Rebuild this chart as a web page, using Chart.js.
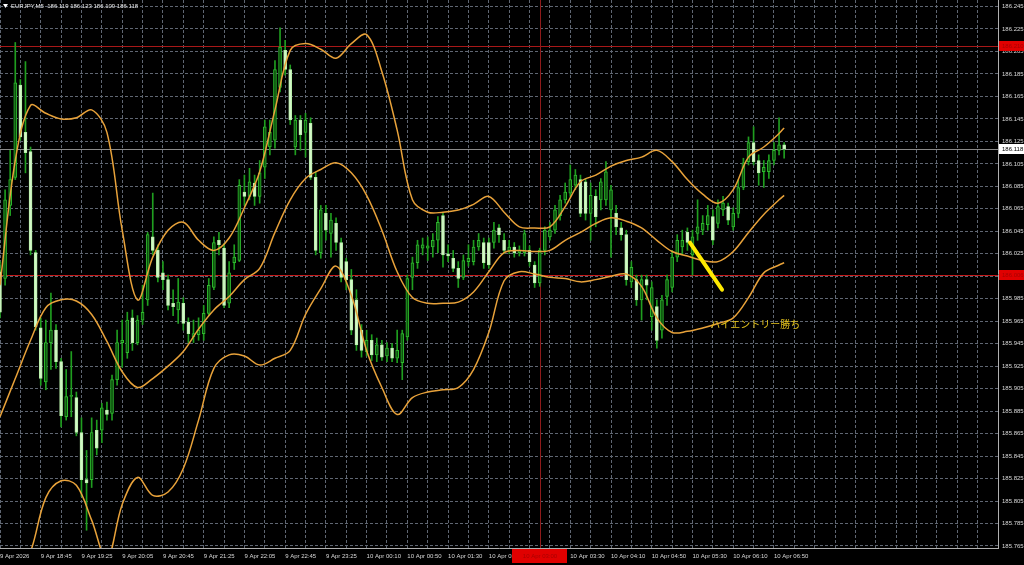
<!DOCTYPE html>
<html>
<head>
<meta charset="utf-8">
<title>EURJPY,M5</title>
<script src="https://cdn.jsdelivr.net/npm/chart.js@4.4.1/dist/chart.umd.min.js"></script>
<style>
  html, body { margin: 0; padding: 0; background: #000; }
  #wrap { width: 1024px; height: 565px; }
</style>
</head>
<body>
<div id="wrap"><canvas id="chart" width="1024" height="565"></canvas></div>
<script>
// EURJPY M5 candles, 9 Apr 18:05 .. 10 Apr 07:00 (bar index 0..154)
const opens = [
  186.009, 186.003, 186.068, 186.093, 186.175, 186.133, 186.116, 186.026, 185.959, 185.911,
  185.946, 185.957, 185.929, 185.880, 185.898, 185.897, 185.866, 185.824, 185.824, 185.868,
  185.868, 185.886, 185.883, 185.913, 185.946, 185.937, 185.968, 185.946, 185.966, 185.984,
  186.040, 186.028, 186.008, 186.002, 185.981, 185.975, 185.981, 185.964, 185.951, 185.953,
  185.954, 185.972, 185.995, 186.037, 186.030, 185.981, 186.017, 186.019, 186.080, 186.076,
  186.088, 186.076, 186.102, 186.120, 186.126, 186.173, 186.206, 186.189, 186.120, 186.144,
  186.133, 186.141, 186.093, 186.026, 186.061, 186.043, 186.052, 186.035, 186.018, 186.002,
  185.984, 185.957, 185.938, 185.948, 185.935, 185.944, 185.934, 185.941, 185.932, 185.928,
  185.951, 186.004, 186.017, 186.030, 186.030, 186.031, 186.037, 186.059, 186.025, 186.021,
  186.012, 186.004, 186.018, 186.018, 186.031, 186.035, 186.035, 186.035, 186.048, 186.037,
  186.028, 186.031, 186.026, 186.026, 186.028, 186.015, 185.999, 186.028, 186.040, 186.046,
  186.059, 186.073, 186.079, 186.086, 186.091, 186.089, 186.061, 186.076, 186.073, 186.073,
  186.064, 186.061, 186.048, 186.042, 186.000, 186.002, 185.984, 186.002, 185.969, 185.978,
  185.957, 185.987, 185.995, 186.022, 186.031, 186.044, 186.024, 186.043, 186.046, 186.051,
  186.058, 186.052, 186.064, 186.067, 186.049, 186.061, 186.084, 186.107, 186.124, 186.108,
  186.098, 186.098, 186.108, 186.117, 186.122
];
const highs = [
  186.018, 186.082, 186.117, 186.213, 186.180, 186.196, 186.120, 186.028, 185.968, 185.966,
  185.990, 185.962, 185.932, 185.922, 185.938, 185.902, 185.879, 185.850, 185.879, 185.877,
  185.892, 185.893, 185.917, 185.957, 185.966, 185.973, 185.975, 185.970, 185.997, 186.044,
  186.079, 186.033, 186.018, 186.006, 185.993, 186.003, 185.986, 185.968, 185.966, 185.968,
  185.979, 186.003, 186.040, 186.044, 186.034, 186.018, 186.033, 186.091, 186.095, 186.101,
  186.095, 186.108, 186.144, 186.144, 186.197, 186.226, 186.215, 186.193, 186.148, 186.148,
  186.150, 186.146, 186.098, 186.068, 186.068, 186.061, 186.057, 186.039, 186.021, 186.011,
  185.993, 185.962, 185.957, 185.953, 185.950, 185.948, 185.946, 185.945, 185.957, 185.957,
  186.006, 186.022, 186.037, 186.039, 186.040, 186.043, 186.058, 186.061, 186.033, 186.028,
  186.018, 186.024, 186.033, 186.037, 186.043, 186.039, 186.039, 186.053, 186.051, 186.043,
  186.037, 186.035, 186.032, 186.046, 186.032, 186.018, 186.030, 186.049, 186.053, 186.068,
  186.077, 186.088, 186.104, 186.100, 186.095, 186.092, 186.088, 186.082, 186.092, 186.107,
  186.086, 186.068, 186.053, 186.046, 186.018, 186.006, 186.006, 186.006, 186.000, 185.984,
  185.988, 186.006, 186.028, 186.042, 186.046, 186.048, 186.046, 186.073, 186.059, 186.068,
  186.064, 186.073, 186.076, 186.070, 186.066, 186.091, 186.110, 186.129, 186.138, 186.113,
  186.108, 186.113, 186.124, 186.146, 186.124
];
const lows = [
  185.968, 185.997, 186.059, 186.091, 186.126, 186.097, 186.024, 185.957, 185.908, 185.904,
  185.922, 185.923, 185.871, 185.877, 185.880, 185.863, 185.809, 185.779, 185.817, 185.846,
  185.857, 185.877, 185.877, 185.908, 185.924, 185.932, 185.939, 185.944, 185.962, 185.979,
  186.024, 186.000, 185.993, 185.975, 185.970, 185.963, 185.957, 185.946, 185.946, 185.948,
  185.948, 185.970, 185.993, 186.024, 185.977, 185.977, 186.011, 186.018, 186.068, 186.073,
  186.068, 186.070, 186.092, 186.113, 186.119, 186.169, 186.184, 186.140, 186.113, 186.117,
  186.111, 186.091, 186.024, 186.021, 186.037, 186.022, 186.028, 186.000, 185.993, 185.953,
  185.939, 185.933, 185.934, 185.930, 185.929, 185.930, 185.929, 185.929, 185.928, 185.913,
  185.948, 185.993, 186.012, 186.024, 186.019, 186.022, 186.026, 186.013, 186.018, 186.009,
  185.995, 186.002, 186.014, 186.015, 186.028, 186.012, 186.012, 186.030, 186.035, 186.025,
  186.025, 186.022, 186.023, 186.023, 186.014, 185.995, 185.996, 186.024, 186.037, 186.043,
  186.055, 186.070, 186.076, 186.082, 186.058, 186.055, 186.037, 186.049, 186.064, 186.068,
  186.022, 186.042, 186.037, 185.997, 185.995, 185.979, 185.966, 185.984, 185.957, 185.941,
  185.950, 185.979, 185.991, 186.018, 186.024, 186.028, 186.006, 186.037, 186.042, 186.046,
  186.033, 186.048, 186.059, 186.051, 186.046, 186.057, 186.082, 186.104, 186.104, 186.086,
  186.084, 186.092, 186.104, 186.113, 186.110
];
const closes = [
  185.973, 186.073, 186.091, 186.177, 186.129, 186.115, 186.028, 185.960, 185.914, 185.946,
  185.957, 185.929, 185.881, 185.898, 185.899, 185.866, 185.824, 185.821, 185.866, 185.852,
  185.888, 185.882, 185.913, 185.946, 185.948, 185.966, 185.946, 185.966, 185.973, 186.042,
  186.028, 186.004, 186.002, 185.979, 185.978, 185.982, 185.963, 185.954, 185.954, 185.957,
  185.972, 185.997, 186.035, 186.033, 185.979, 186.008, 186.022, 186.086, 186.076, 186.089,
  186.076, 186.097, 186.138, 186.133, 186.189, 186.209, 186.189, 186.144, 186.144, 186.131,
  186.144, 186.093, 186.028, 186.064, 186.046, 186.055, 186.035, 186.004, 186.002, 185.957,
  185.944, 185.939, 185.948, 185.935, 185.944, 185.933, 185.941, 185.932, 185.939, 185.954,
  186.003, 186.017, 186.033, 186.033, 186.032, 186.037, 186.053, 186.024, 186.023, 186.012,
  186.003, 186.019, 186.021, 186.031, 186.037, 186.017, 186.015, 186.046, 186.042, 186.028,
  186.031, 186.026, 186.028, 186.043, 186.018, 185.999, 186.028, 186.046, 186.046, 186.064,
  186.073, 186.080, 186.091, 186.095, 186.061, 186.061, 186.077, 186.058, 186.089, 186.098,
  186.082, 186.049, 186.042, 186.002, 186.013, 185.984, 186.002, 185.997, 185.995, 185.948,
  185.984, 186.002, 186.022, 186.037, 186.037, 186.035, 186.040, 186.049, 186.052, 186.059,
  186.037, 186.067, 186.070, 186.055, 186.061, 186.084, 186.106, 186.124, 186.107, 186.097,
  186.102, 186.108, 186.117, 186.122, 186.118
];

// bottom axis labels, one every 8 bars
const labelStep = 8;
const timeLabels = [
  "9 Apr 2026", "9 Apr 18:45", "9 Apr 19:25", "9 Apr 20:05", "9 Apr 20:45",
  "9 Apr 21:25", "9 Apr 22:05", "9 Apr 22:45", "9 Apr 23:25", "10 Apr 00:10",
  "10 Apr 00:50", "10 Apr 01:30", "10 Apr 02:10", "10 Apr 02:50", "10 Apr 03:30",
  "10 Apr 04:10", "10 Apr 04:50", "10 Apr 05:30", "10 Apr 06:10", "10 Apr 06:50"
];

// right axis labels
const priceTicks = [
  185.765, 185.785, 185.805, 185.825, 185.845, 185.865, 185.885, 185.905, 185.925,
  185.945, 185.965, 185.985, 186.005, 186.025, 186.045, 186.065, 186.085, 186.105,
  186.125, 186.145, 186.165, 186.185, 186.205, 186.225, 186.245
];

// Bollinger bands, read every 3 bars
const bandIdx = [
  0, 3, 6, 9, 12, 15, 18, 21, 24, 27, 30, 33, 36, 39, 42, 45, 48, 51, 54, 57,
  60, 63, 66, 69, 72, 75, 78, 81, 84, 87, 90, 93, 96, 99, 102, 105, 108, 111, 114, 117,
  120, 123, 126, 129, 132, 135, 138, 141, 144, 147, 150, 153, 154
];
const bandUpper = [
  185.997, 186.108, 186.157, 186.150, 186.145, 186.146, 186.153, 186.133, 186.046, 185.984,
  186.022, 186.046, 186.053, 186.037, 186.028, 186.039, 186.066, 186.098, 186.153, 186.206,
  186.212, 186.207, 186.199, 186.212, 186.220, 186.187, 186.135, 186.073, 186.062, 186.062,
  186.064, 186.069, 186.076, 186.062, 186.049, 186.048, 186.049, 186.067, 186.089, 186.095,
  186.103, 186.108, 186.111, 186.117, 186.107, 186.091, 186.078, 186.070, 186.082, 186.111,
  186.120, 186.132, 186.137
];
const bandMiddle = [
  185.880, 185.914, 185.948, 185.977, 185.984, 185.983, 185.971, 185.947, 185.920, 185.906,
  185.914, 185.925, 185.938, 185.958, 185.975, 185.987, 186.002, 186.012, 186.044, 186.073,
  186.092, 186.100, 186.106, 186.097, 186.077, 186.046, 186.009, 185.986, 185.981, 185.981,
  185.982, 185.991, 186.009, 186.026, 186.028, 186.027, 186.028, 186.037, 186.044, 186.052,
  186.057, 186.054, 186.048, 186.037, 186.027, 186.023, 186.019, 186.018, 186.027, 186.044,
  186.060, 186.073, 186.077
];
const bandLower = [
  185.750, 185.735, 185.760, 185.808, 185.823, 185.819, 185.788, 185.753, 185.802, 185.826,
  185.810, 185.813, 185.834, 185.877, 185.923, 185.935, 185.934, 185.926, 185.932, 185.939,
  185.971, 185.994, 186.014, 185.988, 185.939, 185.906, 185.882, 185.897, 185.902, 185.904,
  185.906, 185.922, 185.955, 186.001, 186.009, 186.007, 186.004, 186.003, 186.000, 186.002,
  186.005, 186.007, 185.996, 185.968, 185.955, 185.956, 185.959, 185.963, 185.968, 185.986,
  186.008, 186.015, 186.017
];

// horizontal lines, bid line, crosshair and the hand drawn note
const levels = [186.210, 186.006];
const bidPrice = 186.118;
const crossBar = 106;
const crossTime = "10 Apr 03:00";
const symbolInfo = "EURJPY,M5  186.119 186.123 186.109 186.118";
const note = "ハイエントリー勝ち";
const arrowFrom = [135.5, 186.035];
const arrowTo = [141.8, 185.993];
const notePos = [139.5, 185.9625];

const isUp = i => closes[i] >= opens[i];
const barIdx = opens.map((o, i) => i);
const gridBars = [];
for (let v = 0; v <= 196; v += 4) gridBars.push(v);

const axisFont = { family: "'Liberation Sans', Arial, sans-serif", size: 6 };

function hline(ctx, x1, y1, x2, y2, color, w) {
  ctx.strokeStyle = color;
  ctx.lineWidth = w;
  ctx.beginPath();
  ctx.moveTo(x1, y1);
  ctx.lineTo(x2, y2);
  ctx.stroke();
}

// no extra room around the plot, like the terminal window
function noPadding(s) {
  s.paddingTop = 0;
  s.paddingBottom = 0;
  s.paddingLeft = 0;
  s.paddingRight = 0;
}

const mt4Overlay = {
  id: 'mt4Overlay',
  beforeDatasetsDraw(chart) {
    const { ctx, chartArea: a, scales: { x, y } } = chart;
    ctx.save();
    const by = Math.round(y.getPixelForValue(bidPrice)) + 0.5;
    hline(ctx, a.left, by, a.right, by, '#8a8a8a', 1);
    levels.forEach((p, k) => {
      const py = Math.round(y.getPixelForValue(p)) + 0.5;
      hline(ctx, a.left, py, a.right, py, k === 0 ? '#a81818' : '#c41a1a', 1);
    });
    const cx = Math.round(x.getPixelForValue(crossBar)) + 0.5;
    hline(ctx, cx, a.top, cx, a.bottom, '#8e1a1a', 1);
    ctx.restore();
  },
  afterDatasetsDraw(chart) {
    const { ctx, scales: { x, y } } = chart;
    ctx.save();
    ctx.lineCap = 'round';
    hline(ctx, x.getPixelForValue(arrowFrom[0]), y.getPixelForValue(arrowFrom[1]),
      x.getPixelForValue(arrowTo[0]), y.getPixelForValue(arrowTo[1]), '#ffea00', 4);
    ctx.fillStyle = '#e3c21c';
    ctx.font = "10px 'Noto Sans CJK JP', sans-serif";
    ctx.textBaseline = 'middle';
    ctx.textAlign = 'left';
    ctx.fillText(note, x.getPixelForValue(notePos[0]), y.getPixelForValue(notePos[1]));
    ctx.restore();
  },
  afterDraw(chart) {
    const { ctx, chartArea: a, scales: { x, y }, width } = chart;
    ctx.save();
    ctx.font = "6px 'Liberation Sans', Arial, sans-serif";
    ctx.textBaseline = 'middle';
    ctx.textAlign = 'left';
    // price boxes on the right axis
    levels.forEach(p => {
      const py = Math.round(y.getPixelForValue(p));
      ctx.fillStyle = '#e00000';
      ctx.fillRect(a.right + 1, py - 5, width - a.right - 1, 10);
      ctx.fillStyle = '#a80000';
      ctx.fillText(p.toFixed(3), a.right + 4, py);
    });
    const by = Math.round(y.getPixelForValue(bidPrice));
    ctx.fillStyle = '#ffffff';
    ctx.fillRect(a.right + 1, by - 5, width - a.right - 1, 10);
    ctx.fillStyle = '#000000';
    ctx.fillText(bidPrice.toFixed(3), a.right + 4, by);
    // time box of the crosshair
    const cx = Math.round(x.getPixelForValue(crossBar));
    ctx.fillStyle = '#e00000';
    ctx.fillRect(cx - 28, a.bottom + 1, 55, 14);
    ctx.fillStyle = '#a80000';
    ctx.textAlign = 'center';
    ctx.fillText(crossTime, cx, a.bottom + 8);
    // symbol line, top left
    ctx.textAlign = 'left';
    ctx.fillStyle = '#ffffff';
    ctx.beginPath();
    ctx.moveTo(a.left + 3, a.top + 4);
    ctx.lineTo(a.left + 8, a.top + 4);
    ctx.lineTo(a.left + 5.5, a.top + 8);
    ctx.closePath();
    ctx.fill();
    ctx.fillStyle = '#e8e8e8';
    ctx.fillText(symbolInfo, a.left + 11, a.top + 6);
    ctx.restore();
  }
};

const bandLine = (vals) => bandIdx.map((v, k) => ({ x: v, y: vals[k] }));
const bandStyle = {
  type: 'line',
  borderColor: '#e8a23a',
  borderWidth: 1.5,
  pointRadius: 0,
  tension: 0.35,
  order: 0
};

new Chart(document.getElementById('chart'), {
  type: 'bar',
  data: {
    datasets: [
      Object.assign({ label: 'Upper', data: bandLine(bandUpper) }, bandStyle),
      Object.assign({ label: 'Middle', data: bandLine(bandMiddle) }, bandStyle),
      Object.assign({ label: 'Lower', data: bandLine(bandLower) }, bandStyle),
      {
        label: 'Body',
        data: barIdx.map(i => ({ x: i, y: [opens[i], closes[i]] })),
        barThickness: 3,
        minBarLength: 1,
        backgroundColor: c => isUp(c.dataIndex) ? '#0d520d' : '#d4f7c8',
        borderColor: c => isUp(c.dataIndex) ? '#2eb82e' : '#b8efaa',
        borderWidth: 1,
        borderSkipped: false,
        grouped: false,
        order: 1
      },
      {
        label: 'Wick',
        data: barIdx.map(i => ({ x: i, y: [lows[i], highs[i]] })),
        barThickness: 1,
        backgroundColor: '#1f9e1f',
        borderWidth: 0,
        grouped: false,
        order: 2
      }
    ]
  },
  options: {
    responsive: false,
    animation: false,
    devicePixelRatio: 1,
    layout: { padding: 0 },
    plugins: { legend: { display: false }, tooltip: { enabled: false } },
    scales: {
      x: {
        type: 'linear',
        min: 0,
        max: 196,
        offset: false,
        afterBuildTicks: s => { s.ticks = gridBars.map(v => ({ value: v })); },
        afterFit: s => { s.height = 17; noPadding(s); },
        grid: { offset: false, color: '#5f6672', lineWidth: 1, drawTicks: false },
        border: { display: true, color: '#b0b0b0', dash: [3, 2] },
        ticks: {
          autoSkip: false,
          maxRotation: 0,
          align: 'start',
          padding: 5,
          color: '#d8d8d8',
          font: axisFont,
          callback: v => v % labelStep === 0 ? (timeLabels[v / labelStep] || '') : ''
        }
      },
      y: {
        position: 'right',
        min: 185.7632,
        max: 186.2508,
        afterBuildTicks: s => { s.ticks = priceTicks.map(v => ({ value: v })); },
        afterFit: s => { s.width = 26; noPadding(s); },
        grid: { color: '#5f6672', lineWidth: 1, drawTicks: false },
        border: { display: true, color: '#b0b0b0', dash: [3, 2] },
        ticks: {
          padding: 4,
          color: '#d8d8d8',
          font: axisFont,
          callback: v => v.toFixed(3)
        }
      }
    }
  },
  plugins: [mt4Overlay]
});
</script>
</body>
</html>
